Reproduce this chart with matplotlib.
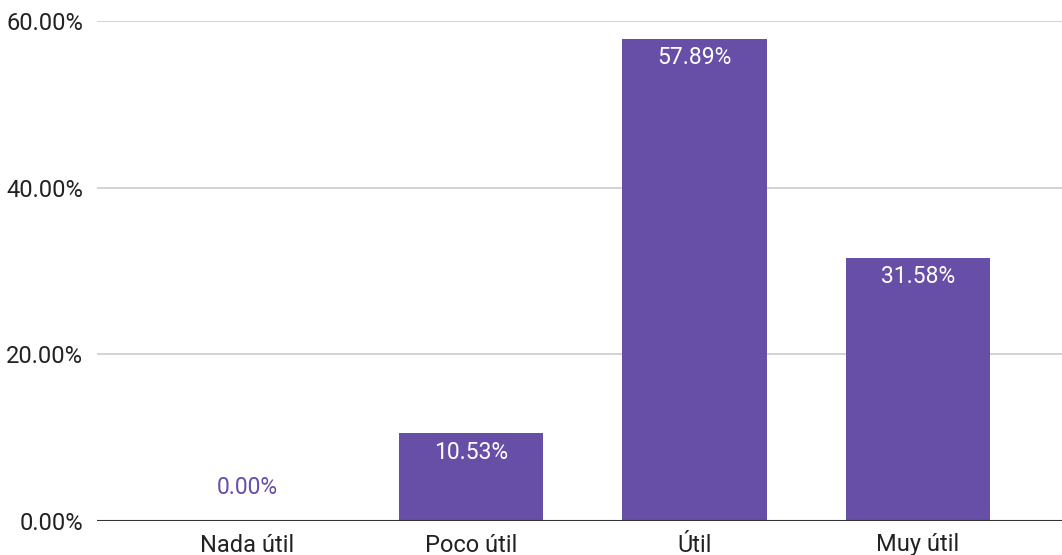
import matplotlib
matplotlib.use("Agg")
import matplotlib.pyplot as plt
from matplotlib.ticker import FuncFormatter

# data
categories = ["Nada útil", "Poco útil", "Útil", "Muy útil"]
shares = [0.0, 10.53, 57.89, 31.58]
y_ticks = [0, 20, 40, 60]

bar_color = "#674ea7"
plt.rcParams["font.family"] = ["Roboto", "DejaVu Sans"]

fig = plt.figure(figsize=(10.62, 5.55), dpi=100)
ax = fig.add_axes([97 / 1062, 34 / 555, 1 - 97 / 1062, 500 / 555])

x = list(range(len(categories)))
bars = ax.bar(x, shares, width=0.645, color=bar_color, zorder=3)

# value labels: inside the bar top, or above the axis when the bar is empty
for xi, val in zip(x, shares):
    txt = "%.2f%%" % val
    if val > 3:
        ax.annotate(txt, (xi, val), xytext=(0, -19), textcoords="offset pixels",
                    ha="center", va="center", color="white", fontsize=16.5, zorder=4)
    else:
        ax.annotate(txt, (xi, val), xytext=(0, 33), textcoords="offset pixels",
                    ha="center", va="center", color=bar_color, fontsize=16.5, zorder=4)

ax.set_ylim(0, 60)
ax.set_xlim(-0.673, 3.644)
ax.set_yticks(y_ticks)
ax.yaxis.set_major_formatter(FuncFormatter(lambda v, p: "%.2f%%" % v))
ax.set_xticks(x)
ax.set_xticklabels(categories)

ax.grid(axis="y", color="#cccccc", linewidth=1.2, zorder=0)
ax.axhline(0, color="#333333", linewidth=1.5, zorder=5)
for s in ax.spines.values():
    s.set_visible(False)
ax.tick_params(axis="both", length=0, labelsize=17, colors="#222222")
ax.tick_params(axis="y", pad=10)
ax.tick_params(axis="x", pad=9)

fig.savefig("out.png", dpi=100)
